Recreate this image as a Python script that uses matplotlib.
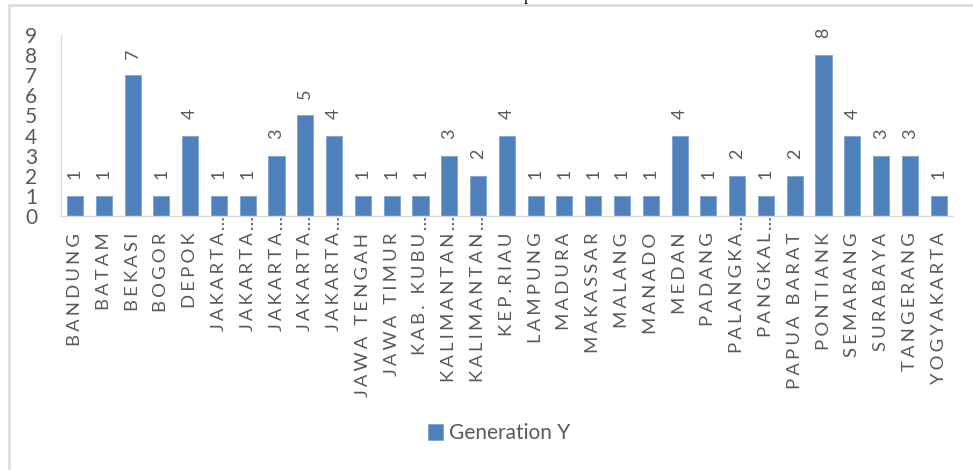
import matplotlib
matplotlib.use("Agg")
import matplotlib.pyplot as plt
from matplotlib.patches import Rectangle
from matplotlib.transforms import blended_transform_factory, offset_copy

plt.rcParams['font.family'] = ['Lato', 'DejaVu Sans']

cities = ["BANDUNG", "BATAM", "BEKASI", "BOGOR", "DEPOK",
          "JAKARTA…", "JAKARTA…", "JAKARTA…", "JAKARTA…", "JAKARTA…",
          "JAWA TENGAH", "JAWA TIMUR", "KAB. KUBU…", "KALIMANTAN…", "KALIMANTAN…",
          "KEP.RIAU", "LAMPUNG", "MADURA", "MAKASSAR", "MALANG", "MANADO",
          "MEDAN", "PADANG", "PALANGKA…", "PANGKAL…", "PAPUA BARAT",
          "PONTIANK", "SEMARANG", "SURABAYA", "TANGERANG", "YOGYAKARTA"]
gen_y = [1, 1, 7, 1, 4, 1, 1, 3, 5, 4, 1, 1, 1, 3, 2, 4, 1, 1, 1, 1, 1,
         4, 1, 2, 1, 2, 8, 4, 3, 3, 1]
y_ticks = list(range(0, 10))

GRAY = "#595959"
BLUE = "#4F81BD"
GAP = "\u2006"


def spaced(s):
    # mimic Excel's letter spacing on the category labels
    words = s.rstrip("…").strip().split(" ")
    return (GAP + " " + GAP).join(GAP.join(w) for w in words)


fig = plt.figure(figsize=(9.73, 4.70), dpi=100)
ax = fig.add_axes([0.0623, 0.5404, 0.9172, 0.3851])

x = list(range(len(cities)))
bars = ax.bar(x, gen_y, width=0.56, color=BLUE, edgecolor="#7FA3D0",
              linewidth=0.6, label="Generation Y", zorder=2)

for xi, v in zip(x, gen_y):
    ax.annotate(str(v), (xi, v), xytext=(0, 12), textcoords="offset points",
                ha="center", va="bottom", rotation=90, fontsize=13,
                color=GRAY)

ax.set_xlim(-0.5, len(cities) - 0.5)
ax.set_ylim(0, 9)
ax.set_yticks(y_ticks)
ax.set_yticklabels([str(t) for t in y_ticks], fontsize=15, color=GRAY)
ax.set_xticks(x)
ax.set_xticklabels([spaced(c) for c in cities], rotation=90, fontsize=13.3,
                   color=GRAY)
ax.tick_params(axis="y", length=0, pad=17)
ax.tick_params(axis="x", length=0, pad=12)

# truncated labels: Excel puts the ellipsis just past the end of the text
trans = offset_copy(blended_transform_factory(ax.transData, ax.transAxes),
                    fig=fig, x=0, y=-6, units="dots")
for xi, c in zip(x, cities):
    if c.endswith("…"):
        ax.text(xi, 0, "…", transform=trans, rotation=90, ha="center",
                va="center", fontsize=13.3, color=GRAY, clip_on=False)

for side in ("top", "right"):
    ax.spines[side].set_visible(False)
ax.spines["left"].set_color("#D9D9D9")
ax.spines["bottom"].set_color("#D9D9D9")
ax.spines["left"].set_linewidth(1.0)
ax.spines["bottom"].set_linewidth(1.0)

leg = fig.legend(handles=[bars], labels=["Generation Y"], loc="center",
                 bbox_to_anchor=(0.513, 0.078), frameon=False, fontsize=15,
                 handlelength=0.75, handleheight=0.75, handletextpad=0.3)
for t in leg.get_texts():
    t.set_color(GRAY)

# chart area border (cropped on the right and bottom)
fig.patches.append(Rectangle((9 / 973, -0.1), 1.2, 1.1 - 5 / 470,
                             transform=fig.transFigure, fill=False,
                             edgecolor="#D9D9D9", linewidth=1.8))

# descender of the cut-off title above the chart
fig.text(0.543, 1.0, "p", ha="center", va="baseline", fontsize=12,
         family="Liberation Serif", color="black")

fig.savefig("out.png", dpi=100)
